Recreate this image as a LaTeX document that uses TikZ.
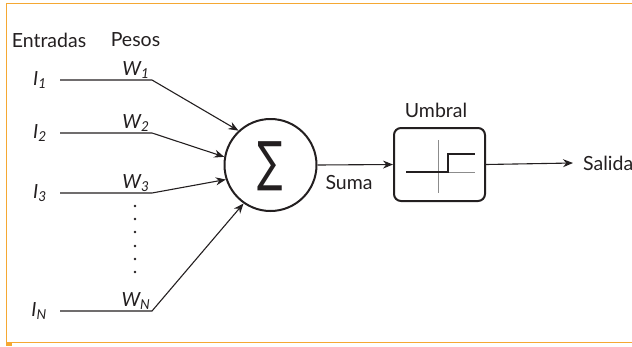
\documentclass[tikz,border=0pt]{standalone}
\usepackage{fontspec}
\setmainfont{Lato}
\newfontfamily\symfont{DejaVu Sans}
\usetikzlibrary{arrows.meta}
\definecolor{frameorange}{HTML}{F5A833}
\definecolor{ink}{HTML}{231F20}
\begin{document}
\begin{tikzpicture}[x=1pt,y=-1pt,
  every node/.style={inner sep=0pt, text=ink, font=\fontsize{19.5}{22}\selectfont},
  wire/.style={draw=ink, line width=1.1pt},
  arr/.style={wire, -{Stealth[length=10pt,width=8pt]}},
  lbl/.style={font=\itshape\fontsize{19.5}{22}\selectfont},
  heavy/.style={draw=ink, line width=2pt},
  axis/.style={draw=black!45, line width=0.8pt}]
\useasboundingbox (0,0) rectangle (632,346);

% frame
\draw[frameorange, line width=1.8pt] (632,3.5) -- (6.5,3.5) -- (6.5,342.5) -- (632,342.5);
\fill[frameorange] (6,342) rectangle (12,346);

% headers
\node (hin) at (49,40) {Entradas};
\node (hw) at (135.5,40) {Pesos};

% summation unit
\node[circle, heavy, minimum size=92pt] (sum) at (270.5,165) {};
\node (sigma) at (270.5,166) {\symfont\fontsize{54}{54}\selectfont\scalebox{0.7}[1]{∑}};

% inputs
\foreach \k/\y/\ang/\sub in {1/80/133/1, 2/133/170/2, 3/193/198/3, N/311/235/N}{
  \node[lbl, anchor=east] (i\k) at (47,\y) {I\textsubscript{\sub}};
  \coordinate (a\k) at (60,\y);
  \coordinate (b\k) at (152,\y);
  \node[lbl, anchor=base] (w\k) at (136,\y-5) {W\textsubscript{\sub}};
  \draw[arr] (a\k) -- (b\k) -- (sum.\ang);
}

% vertical ellipsis
\foreach \d/\y in {1/206, 2/219, 3/232, 4/246, 5/259, 6/272}
  \fill[ink] (135,\y) circle (1.4pt) coordinate (dot\d);

% threshold unit
\node[draw=ink, line width=2pt, rounded corners=7pt, minimum width=91pt,
      minimum height=73pt] (thr) at (439.5,164.5) {};
\node (umbral) at (436,110) {Umbral};
\draw[axis] (438,140) -- (438,193);
\draw[axis] (438,172) -- (475,172);
\draw[heavy] (406,172) -- (448,172) -- (448,154) -- (475,154);

% sum to threshold
\draw[arr] (sum.east) -- (thr.west);
\node (suma) at (349,183) {Suma};

% output
\node[anchor=west] (out) at (583,163) {Salida};
\draw[arr] (thr.east) -- ([xshift=-10pt]out.west);
\end{tikzpicture}
\end{document}
